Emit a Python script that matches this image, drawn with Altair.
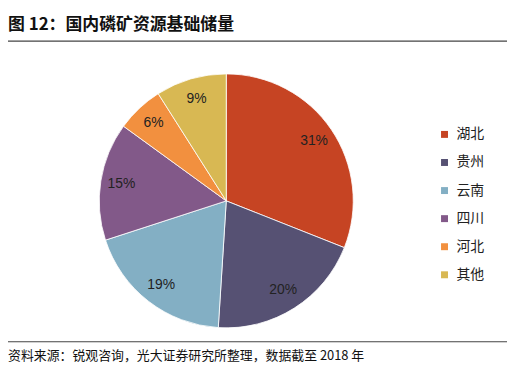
import altair as alt
import pandas as pd

regions = ["湖北", "贵州", "云南", "四川", "河北", "其他"]
shares = [31, 20, 19, 15, 6, 9]
colors = ["#C64423", "#565173", "#83AFC4", "#825989", "#F2903F", "#D8B853"]
title_text = "图 12：国内磷矿资源基础储量"
source_text = "资料来源：锐观咨询，光大证券研究所整理，数据截至 2018 年"

df = pd.DataFrame({
    "region": regions,
    "share": shares,
    "idx": list(range(len(regions))),
    "label": [f"{v}%" for v in shares],
})

cx, cy = 220, 193

base = alt.Chart(df).encode(
    theta=alt.Theta("share:Q", stack=True),
    order=alt.Order("idx:Q", sort="ascending"),
)

pie = base.mark_arc(radius=128, stroke="white", strokeWidth=0.8).encode(
    x=alt.value(cx),
    y=alt.value(cy),
    color=alt.Color(
        "region:N",
        scale=alt.Scale(domain=regions, range=colors),
        sort=regions,
        legend=alt.Legend(
            title=None,
            orient="none",
            legendX=433,
            legendY=119,
            symbolType="square",
            symbolSize=49,
            symbolStrokeWidth=0,
            labelFont="Noto Sans CJK SC",
            labelFontSize=14,
            labelColor="#222222",
            labelOffset=5,
            rowPadding=14.3,
            padding=0,
        ),
    ),
)

labels = base.mark_text(
    radius=107, font="Liberation Sans", fontSize=14, color="#222222"
).encode(x=alt.value(cx), y=alt.value(cy), text="label:N")

tdf = pd.DataFrame({"t": [title_text]})
title = alt.Chart(tdf).mark_text(
    align="left", baseline="alphabetic", font="Noto Sans CJK SC",
    fontSize=17, fontWeight="bold", color="#111111"
).encode(x=alt.value(0), y=alt.value(21), text="t:N")

sdf = pd.DataFrame({"t": [source_text]})
source = alt.Chart(sdf).mark_text(
    align="left", baseline="alphabetic", font="Noto Sans CJK SC",
    fontSize=13, color="#111111"
).encode(x=alt.value(0), y=alt.value(353), text="t:N")

rule_top = alt.Chart(tdf).mark_rule(color="#444444", strokeWidth=1.2).encode(
    x=alt.value(0), x2=alt.value(503), y=alt.value(32)
)
rule_bot = alt.Chart(tdf).mark_rule(color="#444444", strokeWidth=1.2).encode(
    x=alt.value(0), x2=alt.value(503), y=alt.value(335)
)

chart = alt.layer(pie, labels, title, source, rule_top, rule_bot).properties(
    width=504, height=356, padding=0, background="white",
    autosize=alt.AutoSizeParams(type="none")
).configure_view(strokeWidth=0)

chart.save("out.html", embed_options={"renderer": "svg", "actions": False})
